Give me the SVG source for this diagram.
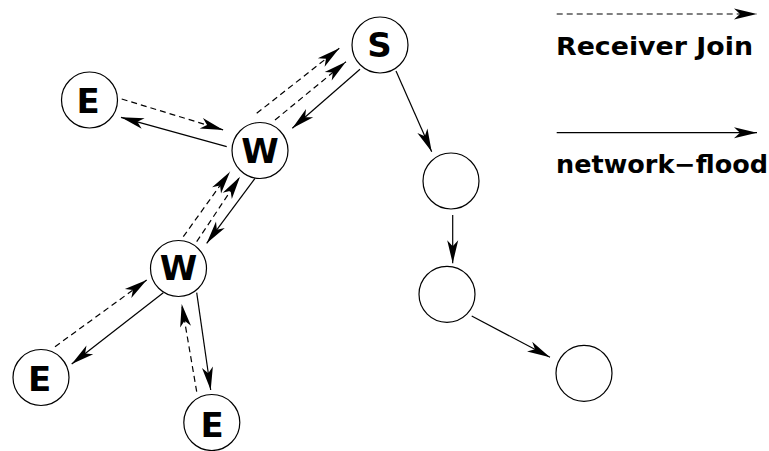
<svg xmlns="http://www.w3.org/2000/svg" width="769" height="451" viewBox="0 0 769 451">
  <style>
    .node circle { fill: #ffffff; stroke: #000000; stroke-width: 1.2; }
    .node text { font-family: "DejaVu Sans", "Liberation Sans", sans-serif; font-weight: bold; font-size: 34px; text-anchor: middle; fill: #000000; }
    .edge { stroke: #000000; stroke-width: 1.2; fill: none; marker-end: url(#head); }
    .dash { stroke-dasharray: 6 4; }
    .legend-label { font-family: "DejaVu Sans", "Liberation Sans", sans-serif; font-weight: bold; font-size: 25px; fill: #000000; }
  </style>
  <defs>
    <marker id="head" viewBox="-24 -7 25 14" refX="0" refY="0" markerWidth="25" markerHeight="14" markerUnits="userSpaceOnUse" orient="auto">
      <path d="M0,0 L-23,-5.5 L-17,0 L-23,5.5 Z" fill="#000000"/>
    </marker>
  </defs>

  <rect width="769" height="451" fill="#ffffff"/>

  <!-- connectors -->
  <g id="connectors">
    <!-- receiver joins (dashed) and flood paths (solid) -->
    <line class="edge dash" x1="121.7" y1="99" x2="223.3" y2="130"/>
    <line class="edge" x1="226.7" y1="146.7" x2="121" y2="117.3"/>
    <line class="edge dash" x1="256.7" y1="113.3" x2="339.3" y2="48.3"/>
    <line class="edge dash" x1="275" y1="120" x2="346" y2="61.7"/>
    <line class="edge" x1="360" y1="69.3" x2="292.3" y2="128.3"/>
    <line class="edge" x1="396" y1="71" x2="431.7" y2="151.7"/>
    <line class="edge dash" x1="183.3" y1="236.7" x2="230" y2="171.7"/>
    <line class="edge dash" x1="196.7" y1="241.7" x2="240" y2="176.7"/>
    <line class="edge" x1="255" y1="178.3" x2="206.7" y2="243.3"/>
    <line class="edge dash" x1="55" y1="346.7" x2="146.7" y2="280"/>
    <line class="edge" x1="163.3" y1="292.7" x2="71.7" y2="364"/>
    <line class="edge dash" x1="196.7" y1="391.7" x2="181.7" y2="304"/>
    <line class="edge" x1="196.7" y1="292.7" x2="210.7" y2="390"/>
    <line class="edge" x1="452.7" y1="215" x2="452.7" y2="263.3"/>
    <line class="edge" x1="471.7" y1="316" x2="550" y2="357.3"/>
    <!-- legend arrows -->
    <line class="edge dash" x1="556.7" y1="14" x2="757" y2="14"/>
    <line class="edge" x1="556.7" y1="132.7" x2="757" y2="132.7"/>
  </g>

  <!-- nodes -->
  <g id="node-E1" class="node"><circle cx="89.5" cy="100" r="28"/><text x="88" y="113">E</text></g>
  <g id="node-W1" class="node"><circle cx="260" cy="150.5" r="28"/><text x="260" y="163">W</text></g>
  <g id="node-S" class="node"><circle cx="380" cy="45" r="28"/><text x="379.5" y="57">S</text></g>
  <g id="node-W2" class="node"><circle cx="178.5" cy="268.5" r="28"/><text x="178.5" y="280">W</text></g>
  <g id="node-E2" class="node"><circle cx="41" cy="377.5" r="28"/><text x="39.5" y="391">E</text></g>
  <g id="node-E3" class="node"><circle cx="211.8" cy="422.5" r="28"/><text x="212" y="436.5">E</text></g>
  <g id="node-C1" class="node"><circle cx="451" cy="181" r="28"/></g>
  <g id="node-C2" class="node"><circle cx="447" cy="294.3" r="28"/></g>
  <g id="node-C3" class="node"><circle cx="584" cy="373.3" r="28"/></g>

  <!-- legend -->
  <g id="legend">
    <text class="legend-label" x="556" y="55" textLength="197" lengthAdjust="spacingAndGlyphs">Receiver Join</text>
    <text class="legend-label" x="556" y="173" textLength="212" lengthAdjust="spacingAndGlyphs">network−flood</text>
  </g>
</svg>
